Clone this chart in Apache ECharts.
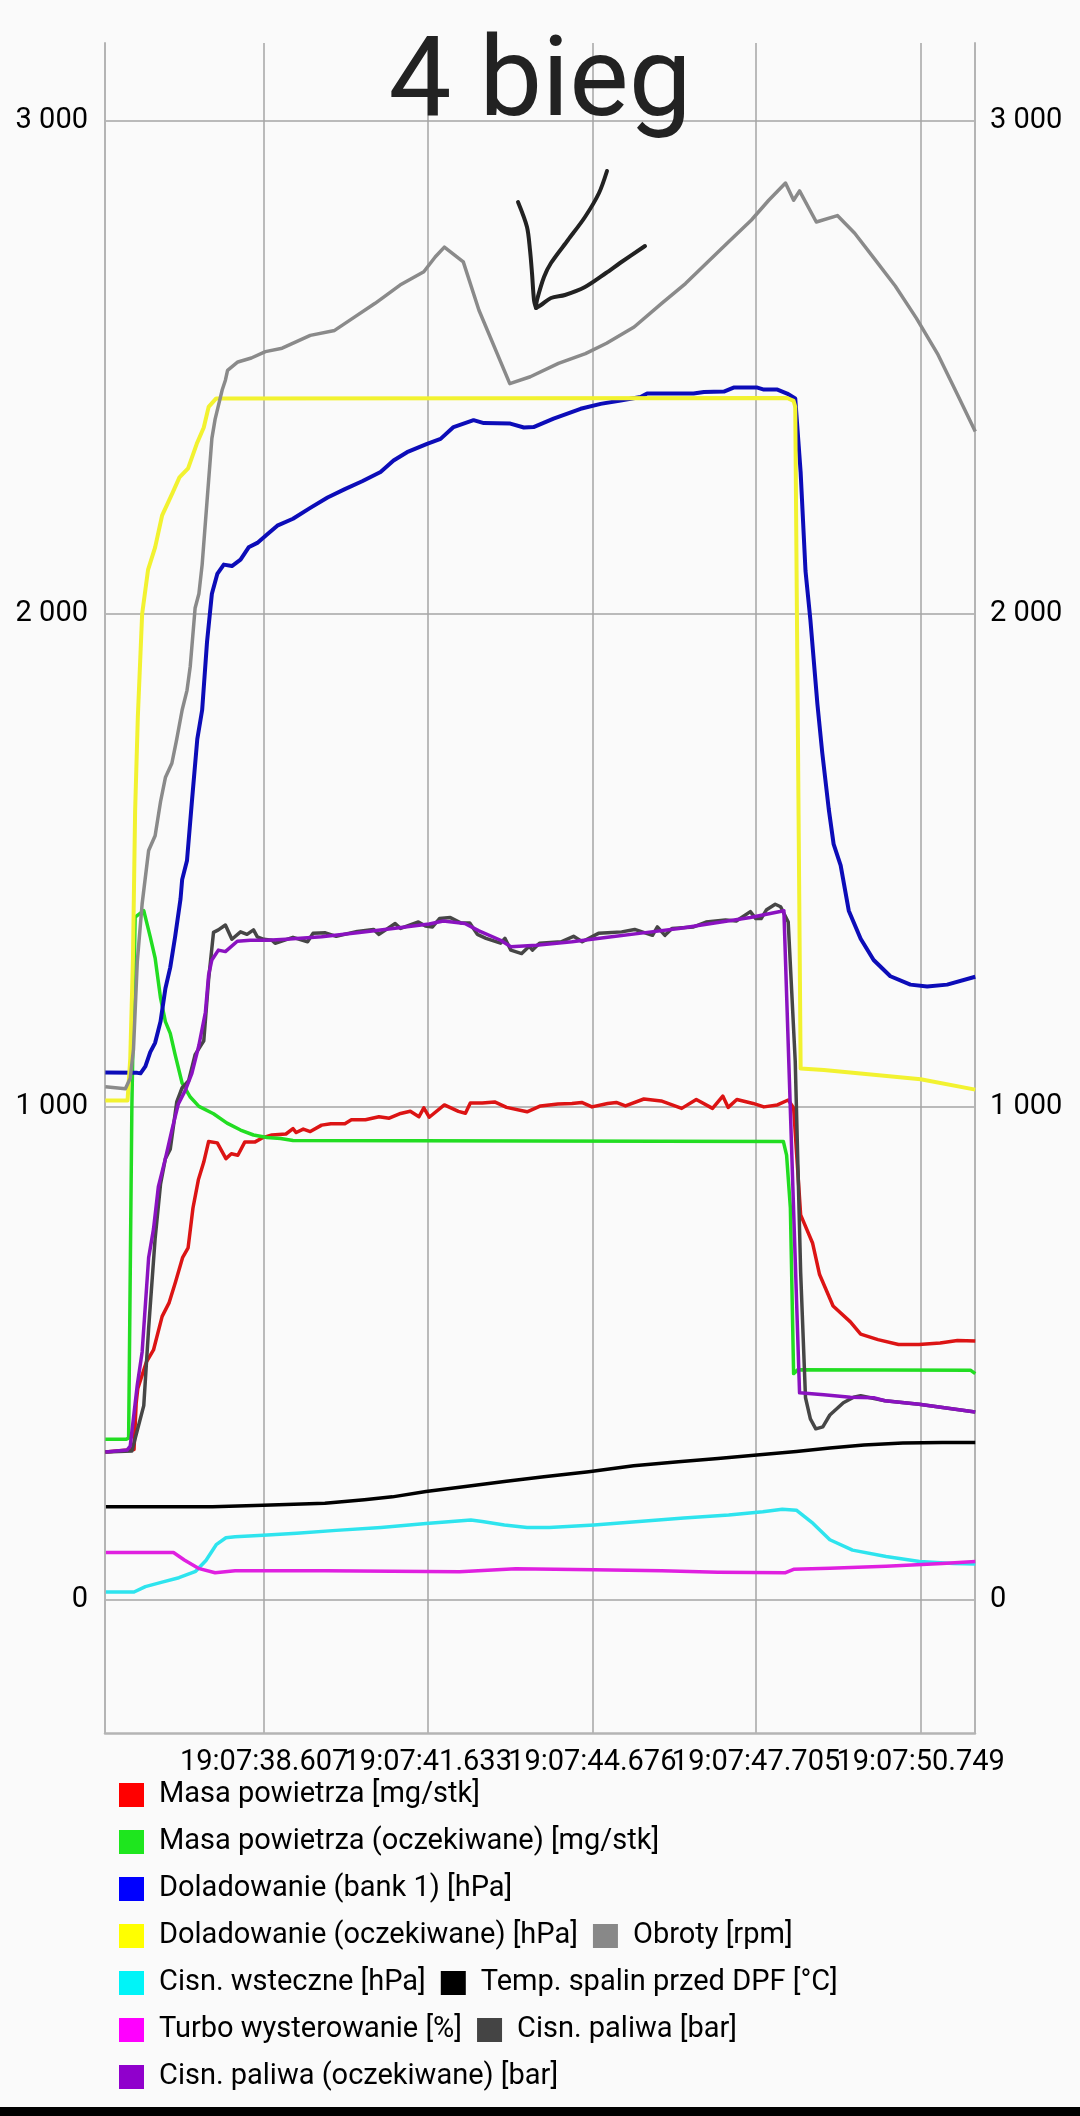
<!DOCTYPE html>
<html>
<head>
<meta charset="utf-8">
<script src="https://cdn.jsdelivr.net/npm/echarts@6/dist/echarts.min.js"></script>
<style>
html,body{margin:0;padding:0;background:#fafafa;}
#chart{width:1080px;height:2116px;}
</style>
</head>
<body>
<div id="chart"></div>
<script>
// ---- tick values / labels ----
const xTickValues = [38.607, 41.633, 44.676, 47.705, 50.749];
const xTickLabels = ['19:07:38.607', '19:07:41.633', '19:07:44.676', '19:07:47.705', '19:07:50.749'];
const yTickValues = [0, 1000, 2000, 3000];

// ---- series names ----
const seriesNames = [
  'Masa powietrza [mg/stk]',
  'Masa powietrza (oczekiwane) [mg/stk]',
  'Doladowanie (bank 1) [hPa]',
  'Doladowanie (oczekiwane) [hPa]',
  'Obroty [rpm]',
  'Cisn. wsteczne [hPa]',
  'Temp. spalin przed DPF [°C]',
  'Turbo wysterowanie [%]',
  'Cisn. paliwa [bar]',
  'Cisn. paliwa (oczekiwane) [bar]'
];

// ---- data: [seconds within 19:07, value] ----
const masaPowietrza = [[35.67,300],[36.20,305],[36.24,400],[36.27,429],[36.43,483],[36.56,507],[36.72,575],[36.85,603],[36.97,646],[37.10,695],[37.20,714],[37.29,795],[37.39,852],[37.49,888],[37.58,930],[37.74,927],[37.90,895],[38.00,905],[38.12,902],[38.25,929],[38.44,929],[38.57,937],[38.75,943],[39.01,945],[39.14,956],[39.20,948],[39.33,955],[39.46,950],[39.67,963],[39.84,966],[40.10,966],[40.22,974],[40.48,974],[40.73,980],[40.92,977],[41.11,986],[41.31,991],[41.47,980],[41.56,998],[41.66,979],[41.94,1004],[42.20,991],[42.33,987],[42.42,1008],[42.64,1008],[42.87,1010],[43.09,999],[43.47,990],[43.72,1002],[44.04,1006],[44.30,1007],[44.48,1009],[44.67,1000],[44.96,1007],[45.12,1009],[45.29,1002],[45.63,1016],[45.95,1012],[46.33,997],[46.60,1015],[46.90,997],[47.09,1022],[47.19,999],[47.35,1015],[47.65,1007],[47.85,1000],[48.10,1004],[48.30,1014],[48.40,998],[48.53,781],[48.75,724],[48.88,660],[49.13,596],[49.45,564],[49.64,539],[49.96,528],[50.34,518],[50.72,518],[51.11,521],[51.43,526],[51.76,525]];

const masaPowietrzaOczek = [[35.67,326],[36.06,326],[36.10,328],[36.16,1000],[36.22,1385],[36.38,1398],[36.50,1345],[36.59,1302],[36.69,1221],[36.78,1173],[36.87,1149],[36.96,1106],[37.09,1048],[37.24,1020],[37.40,1001],[37.67,986],[37.92,967],[38.17,953],[38.41,943],[38.66,938],[38.91,936],[39.14,932],[48.21,930],[48.27,902],[48.34,795],[48.40,459],[48.43,456],[48.48,467],[51.67,466],[51.76,459]];

const doladowanie = [[35.67,1070],[36.26,1069],[36.32,1068],[36.41,1082],[36.50,1111],[36.59,1130],[36.69,1173],[36.78,1240],[36.87,1283],[36.96,1345],[37.06,1422],[37.09,1461],[37.18,1500],[37.27,1619],[37.37,1746],[37.46,1805],[37.55,1943],[37.64,2041],[37.74,2081],[37.86,2100],[38.01,2097],[38.17,2110],[38.32,2135],[38.48,2144],[38.66,2161],[38.85,2179],[39.14,2193],[39.46,2215],[39.78,2236],[40.10,2253],[40.42,2269],[40.76,2288],[41.00,2311],[41.25,2328],[41.62,2345],[41.87,2355],[42.11,2379],[42.48,2393],[42.67,2387],[43.16,2386],[43.41,2378],[43.59,2379],[43.96,2396],[44.46,2416],[44.83,2426],[45.20,2433],[45.57,2440],[45.69,2447],[46.55,2447],[46.74,2450],[47.11,2451],[47.29,2459],[47.73,2459],[47.85,2455],[48.10,2455],[48.28,2447],[48.43,2437],[48.53,2287],[48.62,2087],[48.71,1988],[48.84,1817],[48.93,1718],[49.05,1604],[49.14,1533],[49.27,1490],[49.42,1398],[49.64,1341],[49.88,1298],[50.19,1265],[50.56,1248],[50.87,1244],[51.24,1248],[51.76,1264]];

const doladowanieOczek = [[35.67,1013],[36.08,1013],[36.13,1098],[36.18,1300],[36.22,1600],[36.27,1790],[36.35,2000],[36.46,2090],[36.59,2135],[36.72,2200],[36.91,2245],[37.04,2277],[37.20,2295],[37.36,2345],[37.49,2378],[37.58,2420],[37.72,2437],[48.28,2438],[48.40,2432],[48.43,2420],[48.53,1078],[48.96,1075],[50.75,1056],[51.76,1035]];

const obroty = [[35.67,1041],[36.04,1037],[36.13,1058],[36.19,1117],[36.26,1294],[36.35,1412],[36.47,1520],[36.59,1550],[36.69,1619],[36.78,1668],[36.90,1697],[36.99,1746],[37.09,1805],[37.18,1845],[37.24,1894],[37.33,2012],[37.40,2041],[37.46,2100],[37.55,2228],[37.64,2356],[37.70,2395],[37.83,2454],[37.89,2474],[37.93,2494],[38.12,2511],[38.37,2519],[38.63,2532],[38.94,2539],[39.46,2565],[39.91,2575],[40.29,2603],[40.66,2630],[41.12,2667],[41.56,2694],[41.77,2724],[41.94,2744],[42.29,2714],[42.58,2616],[43.15,2467],[43.53,2481],[44.05,2508],[44.55,2528],[44.94,2549],[45.45,2582],[45.96,2630],[46.40,2670],[46.72,2704],[47.17,2752],[47.62,2799],[47.94,2839],[48.25,2874],[48.40,2839],[48.51,2858],[48.82,2795],[49.21,2808],[49.53,2772],[49.91,2718],[50.28,2665],[50.67,2600],[51.06,2528],[51.43,2445],[51.76,2370]];

const cisnWsteczne = [[35.68,16],[36.20,16],[36.41,27],[36.72,36],[37.03,45],[37.34,58],[37.53,80],[37.72,112],[37.90,126],[38.07,128],[38.59,131],[39.21,135],[39.94,141],[40.77,147],[41.60,155],[42.43,162],[42.64,159],[43.05,152],[43.47,147],[43.88,147],[44.71,152],[45.54,159],[46.37,166],[47.20,172],[47.83,179],[48.19,184],[48.45,182],[48.76,155],[49.07,122],[49.49,101],[50.11,88],[50.73,78],[51.36,74],[51.76,73]];

const tempSpalin = [[35.68,189],[37.65,189],[38.59,192],[39.73,196],[40.46,203],[40.98,209],[41.60,220],[42.33,230],[43.05,240],[43.78,250],[44.61,260],[45.44,272],[46.27,280],[47.00,287],[47.72,294],[48.45,301],[49.07,308],[49.70,314],[50.42,318],[51.15,319],[51.76,319]];

const turboWyster = [[35.68,96],[36.93,96],[37.13,81],[37.39,64],[37.70,55],[38.07,59],[39.73,59],[42.22,57],[43.26,63],[44.71,61],[45.96,59],[47.00,56],[48.24,55],[48.40,62],[49.07,64],[50.11,68],[51.15,74],[51.76,78]];

const cisnPaliwa = [[35.67,300],[36.16,302],[36.38,394],[36.47,551],[36.59,733],[36.69,843],[36.78,895],[36.87,914],[36.99,1010],[37.09,1039],[37.21,1053],[37.33,1106],[37.49,1134],[37.58,1259],[37.67,1354],[37.76,1359],[37.89,1369],[38.01,1340],[38.17,1355],[38.29,1350],[38.41,1359],[38.48,1345],[38.60,1340],[38.75,1338],[38.81,1332],[39.14,1344],[39.41,1335],[39.51,1352],[39.74,1353],[39.94,1346],[40.33,1356],[40.63,1360],[40.73,1350],[41.03,1372],[41.13,1362],[41.46,1375],[41.59,1367],[41.72,1365],[41.85,1382],[42.05,1384],[42.25,1373],[42.41,1373],[42.55,1350],[42.71,1342],[42.98,1332],[43.06,1342],[43.17,1318],[43.37,1311],[43.51,1326],[43.57,1318],[43.70,1332],[44.10,1335],[44.33,1346],[44.49,1335],[44.79,1352],[44.96,1353],[45.22,1355],[45.46,1360],[45.79,1348],[45.88,1365],[46.02,1348],[46.15,1362],[46.55,1365],[46.78,1375],[47.14,1379],[47.34,1377],[47.60,1396],[47.70,1382],[47.80,1382],[47.90,1400],[48.06,1411],[48.16,1406],[48.30,1375],[48.43,1092],[48.53,665],[48.62,410],[48.71,367],[48.81,347],[48.94,351],[49.07,375],[49.32,400],[49.51,411],[49.64,414],[50.09,404],[50.72,397],[51.76,381]];

const cisnPaliwaOczek = [[35.67,300],[36.07,304],[36.13,312],[36.26,436],[36.35,503],[36.47,694],[36.56,752],[36.65,838],[36.78,895],[36.90,953],[37.02,1006],[37.15,1034],[37.27,1068],[37.40,1125],[37.52,1192],[37.58,1268],[37.64,1298],[37.76,1318],[37.89,1315],[38.11,1336],[38.35,1338],[38.66,1338],[39.01,1340],[39.67,1345],[40.33,1353],[40.99,1362],[41.66,1371],[41.92,1377],[42.32,1372],[42.58,1357],[42.98,1338],[43.17,1325],[43.64,1328],[44.30,1335],[44.96,1344],[45.62,1353],[46.28,1362],[46.94,1373],[47.60,1384],[48.22,1398],[48.51,420],[48.96,416],[49.45,411],[49.88,410],[50.09,404],[50.72,397],[51.76,381]];

const seriesData = [masaPowietrza, masaPowietrzaOczek, doladowanie, doladowanieOczek, obroty,
  cisnWsteczne, tempSpalin, turboWyster, cisnPaliwa, cisnPaliwaOczek];

// ---- styles ----
const lineColors = ['#dc1414', '#22dd22', '#0c0cb8', '#f2f230', '#8a8a8a', '#2ee4ee', '#000000', '#e020e0', '#464646', '#8a12c0'];
const legendColors = ['#ff0000', '#1ee61e', '#0000ff', '#ffff00', '#888888', '#00f4f8', '#000000', '#ff00ff', '#444444', '#9000cc'];
const lineWidths = [3.5, 3.5, 4, 4, 3.5, 3.5, 3.5, 3.5, 3.5, 3.5];

const fmtThousands = v => String(v).replace(/\B(?=(\d{3})+(?!\d))/g, ' ');
const fmtTime = v => {
  const i = xTickValues.findIndex(t => Math.abs(t - v) < 1e-6);
  return i >= 0 ? xTickLabels[i] : '';
};
// tick labels are split between two bottom x axes so that none get auto-hidden
const xTicksA = xTickValues.filter((v, i) => i % 2 === 0);
const xTicksB = xTickValues.filter((v, i) => i % 2 === 1);

const FONT = 'Roboto';
const gridColor = '#a4a4a4';
const axisColor = '#b4b4b4';

const xLabelCommon = {
  formatter: fmtTime, fontSize: 29, color: '#000', fontFamily: FONT,
  margin: 15, hideOverlap: false, showMinLabel: true, showMaxLabel: true
};

const yAxisCommon = {
  type: 'value',
  min: -270,
  max: 3158,
  axisLine: { show: true, onZero: false, lineStyle: { color: axisColor, width: 2 } },
  axisTick: { show: false, customValues: yTickValues },
  axisLabel: { customValues: yTickValues, formatter: fmtThousands, fontSize: 29, color: '#000', fontFamily: FONT, hideOverlap: false, showMinLabel: true, showMaxLabel: true }
};

const option = {
  backgroundColor: '#fafafa',
  animation: false,
  textStyle: { fontFamily: FONT },
  title: {
    text: '4 bieg',
    left: 'center',
    top: 31,
    padding: 0,
    z: 20,
    textStyle: { fontSize: 112, fontWeight: 'normal', color: '#222', fontFamily: FONT, lineHeight: 112 }
  },
  grid: { left: 105, right: 105, top: 43, bottom: 383, containLabel: false, outerBoundsMode: 'none' },
  xAxis: [
    {
      type: 'value',
      position: 'bottom',
      min: 35.663,
      max: 51.755,
      axisLine: { show: true, onZero: false, lineStyle: { color: axisColor, width: 2.5 } },
      axisTick: { show: false, customValues: xTickValues },
      axisLabel: Object.assign({ customValues: xTicksA }, xLabelCommon),
      splitLine: { show: true, lineStyle: { color: gridColor, width: 1.5 } }
    },
    {
      type: 'value',
      position: 'bottom',
      offset: 0,
      min: 35.663,
      max: 51.755,
      axisLine: { show: false, onZero: false },
      axisTick: { show: false, customValues: xTicksB },
      axisLabel: Object.assign({ customValues: xTicksB }, xLabelCommon),
      splitLine: { show: false }
    }
  ],
  yAxis: [
    Object.assign({}, yAxisCommon, {
      position: 'left',
      axisLabel: Object.assign({}, yAxisCommon.axisLabel, { margin: 17 }),
      splitLine: { show: true, lineStyle: { color: gridColor, width: 1.5 } }
    }),
    Object.assign({}, yAxisCommon, {
      position: 'right',
      axisLabel: Object.assign({}, yAxisCommon.axisLabel, { margin: 15 }),
      splitLine: { show: false }
    })
  ],
  legend: {
    left: 119,
    top: 1779,
    width: 800,
    padding: 0,
    orient: 'horizontal',
    icon: 'rect',
    itemWidth: 25,
    itemHeight: 24,
    itemGap: 15,
    selectedMode: false,
    textStyle: { fontSize: 29, color: '#000', fontFamily: FONT, lineHeight: 32, padding: [0, 0, 0, 10] },
    data: seriesNames.map((n, i) => ({ name: n, itemStyle: { color: legendColors[i], borderWidth: 0 } }))
  },
  series: seriesNames.map((n, i) => ({
    name: n,
    type: 'line',
    xAxisIndex: 0,
    yAxisIndex: 0,
    data: seriesData[i],
    showSymbol: false,
    symbol: 'none',
    smooth: false,
    silent: true,
    color: lineColors[i],
    lineStyle: { color: lineColors[i], width: lineWidths[i], join: 'round' },
    z: 2 + i * 0.01
  })),
  graphic: [
    { type: 'polyline', z: 100, shape: { points: [[607,171],[599,193],[585,217],[568,240],[551,263],[544,277],[537,300],[536,307]], smooth: 0.3 }, style: { stroke: '#222', lineWidth: 4, fill: null, lineCap: 'round', lineJoin: 'round' } },
    { type: 'polyline', z: 100, shape: { points: [[518,202],[527,227],[530,250],[532,273],[534,300],[536,308]], smooth: 0.3 }, style: { stroke: '#222', lineWidth: 4, fill: null, lineCap: 'round', lineJoin: 'round' } },
    { type: 'polyline', z: 100, shape: { points: [[536,308],[541,305],[551,298],[565,295],[585,287],[606,273],[620,263],[645,246]], smooth: 0.3 }, style: { stroke: '#222', lineWidth: 4, fill: null, lineCap: 'round', lineJoin: 'round' } },
    { type: 'rect', z: 100, shape: { x: 0, y: 2107, width: 1080, height: 9 }, style: { fill: '#000' } }
  ]
};

const chart = echarts.init(document.getElementById('chart'), null, { renderer: 'canvas', width: 1080, height: 2116 });
chart.setOption(option);
</script>
</body>
</html>
